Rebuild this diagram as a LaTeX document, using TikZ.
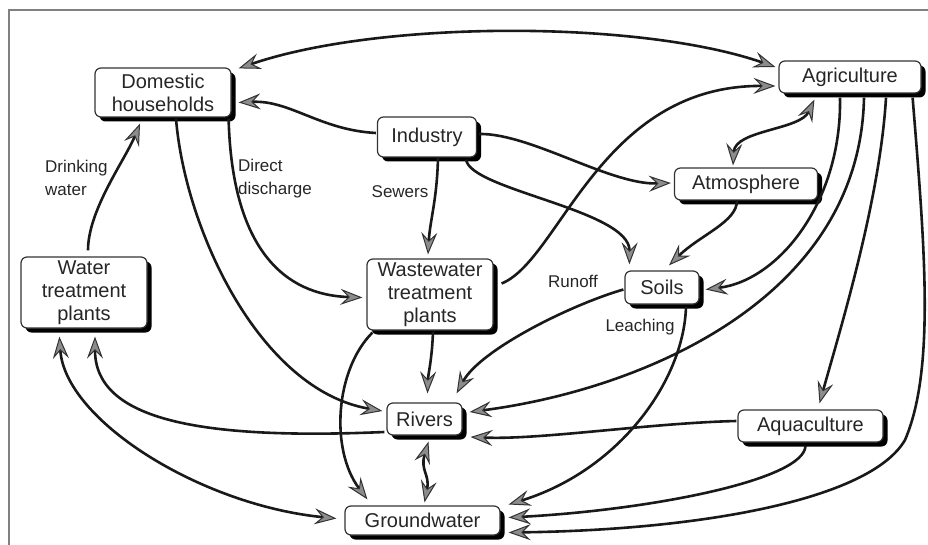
\documentclass[tikz,border=0pt]{standalone}
\usepackage{fontspec}
\setmainfont{Liberation Sans}
\usetikzlibrary{arrows.meta,shadows,calc}

\begin{document}
\begin{tikzpicture}[x=1pt,y=-1pt,
  box/.style={draw=black!80, line width=1.2pt, fill=white, rounded corners=6pt,
    align=center, inner sep=0pt, font=\fontsize{20}{23}\selectfont, text=black!85,
    general shadow={fill=black, shadow xshift=4.5pt, shadow yshift=-4.5pt}},
  lbl/.style={font=\fontsize{17}{23}\selectfont, align=left, inner sep=0pt, text=black!85},
  gtip/.tip={Stealth[length=22pt, width=16pt, inset=8pt, fill=black!45, color=black!80, line width=1pt]},
  flow/.style={draw=black!90, line width=2.6pt, -gtip},
  both/.style={draw=black!90, line width=2.6pt, gtip-gtip},
]
\useasboundingbox (0,0) rectangle (928,545);
% frame
\draw[black!50, line width=2pt] (9,546) -- (9,10) -- (929,10);

% compartments
\node[box, minimum width=136pt, minimum height=49pt] (dom)  at (163,92.5)  {Domestic\\households};
\node[box, minimum width=99pt,  minimum height=40pt] (ind)  at (427,137)   {Industry};
\node[box, minimum width=142pt, minimum height=32pt] (agr)  at (850,77)    {Agriculture};
\node[box, minimum width=143pt, minimum height=32pt] (atm)  at (746,184)   {Atmosphere};
\node[box, minimum width=126pt, minimum height=71pt] (wtp)  at (84,292.5)  {Water\\treatment\\plants};
\node[box, minimum width=126pt, minimum height=71pt] (wwt)  at (430,294.5) {Wastewater\\treatment\\plants};
\node[box, minimum width=74pt,  minimum height=33pt] (soil) at (662,287.5) {Soils};
\node[box, minimum width=75pt,  minimum height=32pt] (riv)  at (424.5,419) {Rivers};
\node[box, minimum width=155pt, minimum height=29pt] (gw)   at (422.5,520.5) {Groundwater};
\node[box, minimum width=145pt, minimum height=32pt] (aqu)  at (810.5,426) {Aquaculture};

% pathway labels
\node[lbl, anchor=west] (ldw) at (45,178)  {Drinking\\water};
\node[lbl, anchor=west] (ldd) at (238,179) {Direct\\discharge};
\node[lbl] (lsw) at (400,192) {Sewers};
\node[lbl] (lro) at (573,281) {Runoff};
\node[lbl] (lle) at (640,327) {Leaching};

% flows
\draw[both] ($(dom.north east)+(7,1)$) .. controls (380,20) and (640,20) .. ($(agr.west)+(-3,-10)$);
\draw[flow] ($(ind.west)+(-1,-4)$) .. controls (320,130) and (290,100) .. ($(dom.east)+(7,10)$);
\draw[flow] ($(ind.east)+(2,-3)$) .. controls (530,133) and (610,185) .. ($(atm.west)+(-3,-1)$);
\draw[flow] ($(ind.south east)+(-11,2)$) .. controls (470,190) and (630,210) .. ($(soil.north west)+(5,-6)$);
\draw[flow] ($(ind.south)+(11,0)$) .. controls (437,200) and (430,220) .. ($(wwt.north)+(-2,-4)$);
\draw[flow] ($(atm.south)+(-9,0)$) .. controls (737,222) and (700,235) .. ($(soil.north)+(7,-5)$);
\draw[both] ($(atm.north)+(-13,-2)$) .. controls (735,130) and (800,130) .. ($(agr.south west)+(36,6)$);
\draw[flow] ($(wwt.east)+(8,-11)$) .. controls (560,260) and (600,85) .. ($(agr.west)+(-3,9)$);
\draw[flow] ($(dom.south east)+(-3,1)$) .. controls (232,250) and (285,295) .. ($(wwt.west)+(-4,3)$);
\draw[flow] ($(dom.south)+(13,1)$) .. controls (185,230) and (260,390) .. ($(riv.west)+(-4,-8)$);
\draw[flow] ($(wtp.north)+(4,-6)$) .. controls (88,210) and (125,160) .. ($(dom.south)+(-23,6)$);
\draw[flow] ($(riv.west)+(-2,13)$) .. controls (200,440) and (95,420) .. ($(wtp.south)+(11,8)$);
\draw[both] ($(wtp.south west)+(39,8)$) .. controls (65,420) and (200,505) .. ($(gw.west)+(-8,-2)$);
\draw[flow] ($(wwt.south)+(3,1)$) .. controls (432,360) and (428,375) .. ($(riv.north)+(3,-9)$);
\draw[flow] ($(wwt.south west)+(6,2)$) .. controls (335,370) and (330,450) .. ($(gw.north west)+(23,-6)$);
\draw[flow] ($(soil.west)+(-1,2)$) .. controls (570,305) and (480,350) .. ($(riv.north east)+(-6,-9)$);
\draw[flow] ($(soil.south)+(24,2)$) .. controls (684,380) and (620,470) .. ($(gw.east)+(8,-16)$);
\draw[flow] ($(agr.south)+(-10,4)$) .. controls (842,200) and (780,280) .. ($(soil.east)+(6,2)$);
\draw[flow] ($(agr.south)+(14,4)$) .. controls (860,300) and (640,390) .. ($(riv.east)+(7,-7)$);
\draw[flow] ($(agr.south)+(36,4)$) .. controls (880,200) and (840,330) .. ($(aqu.north)+(9,-6)$);
\coordinate (sweep) at (905,440);
\draw[flow] ($(agr.south east)+(-9,4)$) .. controls (925,250) and (935,370) .. (sweep)
  .. controls (870,500) and (700,530) .. ($(gw.east)+(8,12)$);
\draw[flow] ($(aqu.west)+(-1,-5)$) .. controls (650,423) and (540,440) .. ($(riv.east)+(8,18)$);
\draw[flow] ($(aqu.south)+(-5,3)$) .. controls (805,480) and (650,510) .. ($(gw.east)+(8,-3)$);
\draw[both] ($(riv.south)+(4,6)$) .. controls (420,470) and (430,475) .. ($(gw.north)+(2,-3)$);
\end{tikzpicture}
\end{document}
